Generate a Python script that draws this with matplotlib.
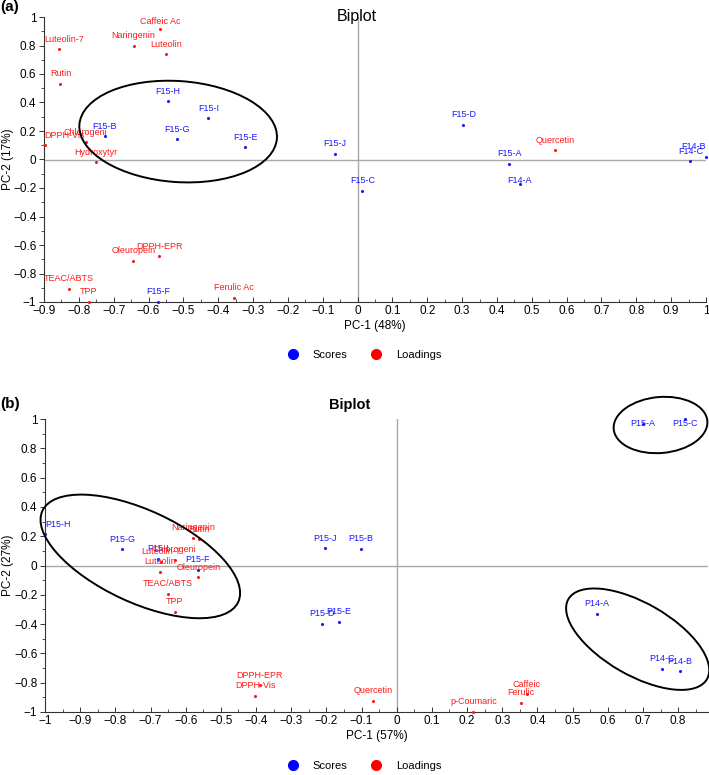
import matplotlib
matplotlib.use("Agg")
import matplotlib.pyplot as plt
from matplotlib.patches import Ellipse
from matplotlib.lines import Line2D
from matplotlib.ticker import MultipleLocator, AutoMinorLocator, FuncFormatter
import matplotlib.transforms as mtransforms

plt.rcParams["font.family"] = ["Liberation Sans", "DejaVu Sans"]

# panel (a)
a_score_names = ["F15-H", "F15-I", "F15-G", "F15-B", "F15-E", "F15-J", "F15-C",
                 "F15-D", "F15-A", "F14-A", "F14-C", "F14-B", "F15-F"]
a_score_x = [-0.544, -0.428, -0.518, -0.726, -0.322, -0.065, 0.014,
             0.304, 0.435, 0.466, 0.955, 0.999, -0.572]
a_score_y = [0.41, 0.289, 0.141, 0.162, 0.087, 0.042, -0.22,
             0.244, -0.03, -0.169, -0.014, 0.019, -1.0]

a_load_names = ["Caffeic Ac", "Naringenin", "Luteolin", "Luteolin-7", "Rutin",
                "DPPH-Vis", "Chlorogeni", "Hydroxytyr", "Oleuropein", "DPPH-EPR",
                "TEAC/ABTS", "TPP", "Ferulic Ac", "Quercetin"]
a_load_x = [-0.566, -0.643, -0.55, -0.856, -0.853, -0.898, -0.78, -0.752,
            -0.644, -0.569, -0.829, -0.771, -0.355, 0.566]
a_load_y = [0.918, 0.80, 0.737, 0.772, 0.533, 0.099, 0.122, -0.021,
            -0.711, -0.678, -0.906, -1.0, -0.972, 0.066]

# panel (b)
b_score_names = ["P15-H", "P15-G", "P15-I", "P15-F", "P15-J", "P15-B", "P15-D",
                 "P15-E", "P15-A", "P15-C", "P14-A", "P14-C", "P14-B"]
b_score_x = [-0.999, -0.78, -0.678, -0.566, -0.203, -0.102, -0.213,
             -0.165, 0.70, 0.821, 0.570, 0.754, 0.804]
b_score_y = [0.214, 0.112, 0.046, -0.03, 0.118, 0.114, -0.398,
             -0.386, 0.963, 1.0, -0.33, -0.705, -0.723]

b_load_names = ["Naringenin", "Rutin", "Luteolin-7", "Chlorogeni", "Luteolin",
                "Oleuropein", "TEAC/ABTS", "TPP", "DPPH-EPR", "DPPH-Vis",
                "Quercetin", "p-Coumaric", "Ferulic", "Caffeic"]
b_load_x = [-0.579, -0.562, -0.670, -0.631, -0.673, -0.564, -0.650, -0.631,
            -0.39, -0.402, -0.068, 0.218, 0.353, 0.37]
b_load_y = [0.19, 0.178, 0.025, 0.039, -0.041, -0.080, -0.194, -0.315,
            -0.818, -0.891, -0.925, -1.0, -0.936, -0.88]

SCORE_C = "#1a1aff"
LOAD_C = "#ff1a1a"

fig = plt.figure(figsize=(7.09, 7.75), dpi=100)
W, H = 709, 775
ax1 = fig.add_axes([44 / W, 1 - 302 / H, (706 - 44) / W, (302 - 17) / H])
ax2 = fig.add_axes([45 / W, 1 - 712 / H, (708 - 45) / W, (712 - 419) / H])


def fmt(v, pos):
    s = "%g" % round(v, 2)
    return s.replace("-", "\u2212")


def style(ax, xlim, xlabel, ylabel):
    ax.set_xlim(*xlim)
    ax.set_ylim(-1, 1)
    for s in ["top", "right"]:
        ax.spines[s].set_visible(False)
    for s in ["left", "bottom"]:
        ax.spines[s].set_color("#333333")
        ax.spines[s].set_linewidth(0.8)
    ax.axhline(0, color="#a8a8a8", lw=1, zorder=0)
    ax.axvline(0, color="#a8a8a8", lw=1, zorder=0)
    ax.xaxis.set_major_locator(MultipleLocator(0.1))
    ax.yaxis.set_major_locator(MultipleLocator(0.2))
    ax.xaxis.set_minor_locator(AutoMinorLocator(2))
    ax.yaxis.set_minor_locator(AutoMinorLocator(2))
    ax.xaxis.set_major_formatter(FuncFormatter(fmt))
    ax.yaxis.set_major_formatter(FuncFormatter(fmt))
    ax.tick_params(which="major", length=3.5, width=0.7,
                   labelsize=8.5, color="#333333", pad=2)
    ax.tick_params(which="minor", length=2, width=0.6, color="#333333")
    ax.tick_params(axis="x", which="both", direction="in")
    ax.tick_params(axis="y", which="both", direction="out")
    ax.set_xlabel(xlabel, fontsize=8.5, labelpad=2)
    ax.set_ylabel(ylabel, fontsize=8.5)
    bb = ax.get_position()
    ax.yaxis.set_label_coords(14 / W, (bb.y0 + bb.y1) / 2, transform=fig.transFigure)


style(ax1, (-0.9, 1.0), "PC-1 (48%)", "PC-2 (17%)")
style(ax2, (-1.0, 0.885), "PC-1 (57%)", "PC-2 (27%)")

texts = {ax1: [], ax2: []}


def plot_group(ax, names, xs, ys, color):
    ax.scatter(xs, ys, s=5, color=color, zorder=3, clip_on=False, linewidths=0)
    for n, x, y in zip(names, xs, ys):
        t = ax.annotate(n, (x, y), xytext=(0, 4), textcoords="offset points",
                        ha="center", va="bottom", fontsize=6.5, color=color,
                        annotation_clip=False)
        texts[ax].append(t)


plot_group(ax1, a_score_names, a_score_x, a_score_y, SCORE_C)
plot_group(ax1, a_load_names, a_load_x, a_load_y, LOAD_C)
plot_group(ax2, b_score_names, b_score_x, b_score_y, SCORE_C)
plot_group(ax2, b_load_names, b_load_x, b_load_y, LOAD_C)

# group ellipses: centre in data units, size in pixels
ellipses = [
    (ax1, (-0.515, 0.196), 198, 101, -4),
    (ax2, (-0.729, 0.062), 216, 92, -25),
    (ax2, (0.685, -0.503), 160, 72, -30),
    (ax2, (0.75, 0.959), 94, 56, 5),
]
for ax, (cx, cy), w, h, ang in ellipses:
    tr = fig.dpi_scale_trans + mtransforms.ScaledTranslation(cx, cy, ax.transData)
    e = Ellipse((0, 0), w / fig.dpi, h / fig.dpi, angle=ang, transform=tr,
                fill=False, ec="black", lw=1.4, clip_on=False, zorder=4)
    ax.add_patch(e)

# keep point labels inside the plotting area
fig.canvas.draw()
r = fig.canvas.get_renderer()
for ax, tl in texts.items():
    abb = ax.get_window_extent(r)
    for t in tl:
        bb = t.get_window_extent(r)
        dx = dy = 0.0
        if bb.x0 < abb.x0:
            dx = abb.x0 - bb.x0
        elif bb.x1 > abb.x1:
            dx = abb.x1 - bb.x1
        if bb.y1 > abb.y1:
            dy = abb.y1 - bb.y1
        if dx or dy:
            px, py = t.get_position()
            t.set_position((px + dx * 72 / fig.dpi, py + dy * 72 / fig.dpi))
texts[ax1][a_score_names.index("F14-A")].set_position((0, -1))

fig.text(357 / W, 1 - 17 / H, "Biplot", ha="center", va="center", fontsize=11.5)
fig.text(350 / W, 1 - 405 / H, "Biplot", ha="center", va="center",
         fontsize=10.5, fontweight="bold")
fig.text(0.0, 1 - 7 / H, "(a)", ha="left", va="center", fontsize=11, fontweight="bold")
fig.text(0.0, 1 - 404 / H, "(b)", ha="left", va="center", fontsize=11, fontweight="bold")

handles = [
    Line2D([], [], marker="o", ls="", color="#0000ff", markersize=7, label="Scores"),
    Line2D([], [], marker="o", ls="", color="#ff0000", markersize=7, label="Loadings"),
]
for yy in (1 - 355 / H, 1 - 766 / H):
    fig.legend(handles=handles, loc="center", bbox_to_anchor=(0.51, yy), ncol=2,
               frameon=False, fontsize=8, handletextpad=0.8, columnspacing=1.6)

fig.savefig("out.png", dpi=100)
